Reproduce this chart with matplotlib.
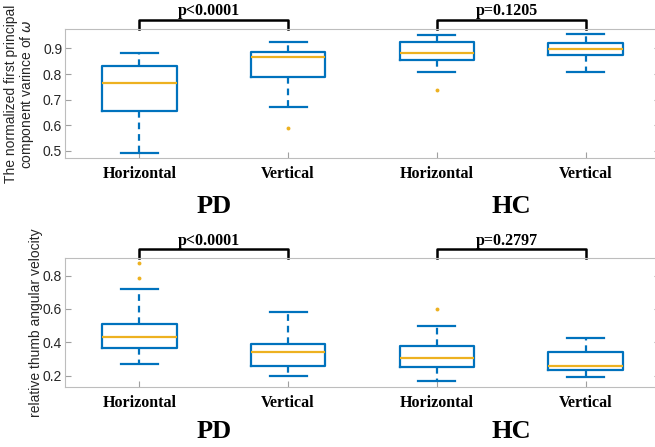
import matplotlib
matplotlib.use("Agg")
import matplotlib.pyplot as plt
import matplotlib.transforms as mtransforms

groups = ["PD", "HC"]
conditions = ["Horizontal", "Vertical", "Horizontal", "Vertical"]

# top panel: normalized first principal component variance
top_whislo = [0.492, 0.671, 0.809, 0.808]
top_q1 = [0.657, 0.790, 0.855, 0.873]
top_med = [0.767, 0.865, 0.884, 0.899]
top_q3 = [0.833, 0.886, 0.925, 0.921]
top_whishi = [0.884, 0.925, 0.951, 0.955]
top_fliers = [[], [0.591], [0.737], []]
top_pvals = ["p<0.0001", "p=0.1205"]

# bottom panel: relative thumb angular velocity
bot_whislo = [0.272, 0.200, 0.168, 0.190]
bot_q1 = [0.366, 0.260, 0.254, 0.232]
bot_med = [0.434, 0.342, 0.306, 0.260]
bot_q3 = [0.512, 0.390, 0.380, 0.340]
bot_whishi = [0.718, 0.580, 0.496, 0.426]
bot_fliers = [[0.874, 0.784], [], [0.602], []]
bot_pvals = ["p<0.0001", "p=0.2797"]

blue = "#0072BD"
orange = "#EDB120"
gray = "#bdbdbd"
serif = "Liberation Serif"
sans = "Liberation Sans"

fig = plt.figure(figsize=(6.55, 4.47), dpi=100)
ax1 = fig.add_axes([0.0992, 0.6459, 0.9084, 0.2886])
ax2 = fig.add_axes([0.0992, 0.1336, 0.9084, 0.2899])


def draw_panel(ax, lo, q1, med, q3, hi, fliers, pvals, ylim, yticks, ylabel, labx, bracket_h, text_y, group_y):
    stats = []
    for i in range(len(med)):
        stats.append(dict(whislo=lo[i], q1=q1[i], med=med[i], q3=q3[i],
                          whishi=hi[i], fliers=fliers[i]))
    pos = [1, 2, 3, 4]
    ax.bxp(stats, positions=pos, widths=0.5, showcaps=True,
           boxprops=dict(color=blue, linewidth=1.6),
           whiskerprops=dict(color=blue, linewidth=1.6, linestyle=(0, (3, 2.2))),
           capprops=dict(color=blue, linewidth=1.6),
           medianprops=dict(color=orange, linewidth=1.6),
           flierprops=dict(marker="o", markersize=2.8, markerfacecolor=orange,
                           markeredgecolor="none"),
           capwidths=0.25)
    ax.set_xlim(0.5, 4.5)
    ax.set_ylim(*ylim)
    ax.set_yticks(yticks)
    ax.set_yticklabels(["%.1f" % t for t in yticks], fontfamily=sans, fontsize=10, color="#262626")
    ax.set_xticks(pos)
    ax.set_xticklabels(conditions, fontfamily=serif, fontweight="bold", fontsize=11.5)
    ax.tick_params(axis="y", direction="in", length=4, color="#a0a0a0", pad=2, right=True)
    ax.tick_params(axis="x", direction="in", length=4, color="#a0a0a0", pad=5.5)
    for s in ax.spines.values():
        s.set_color(gray)
        s.set_linewidth(0.8)
    ax.set_ylabel(ylabel, fontfamily=sans, fontsize=10, color="#262626", linespacing=1.05)
    ax.yaxis.set_label_coords(labx, 0.5)

    trans = mtransforms.blended_transform_factory(ax.transData, ax.transAxes)
    for k, p in enumerate(pvals):
        a, b = pos[2 * k], pos[2 * k + 1]
        ax.plot([a, a, b, b], [1.0, 1.0 + bracket_h, 1.0 + bracket_h, 1.0],
                color="black", linewidth=1.8, transform=trans, clip_on=False)
        ax.text((a + b) / 2 - 0.03, text_y, p, transform=trans, ha="center", va="baseline",
                fontfamily=serif, fontweight="bold", fontsize=11.5)
        ax.text((a + b) / 2, group_y, groups[k], transform=trans, ha="center", va="center",
                fontfamily=serif, fontweight="bold", fontsize=19)


draw_panel(ax1, top_whislo, top_q1, top_med, top_q3, top_whishi, top_fliers, top_pvals,
           (0.471, 0.975), [0.5, 0.6, 0.7, 0.8, 0.9],
           "The normalized first principal\ncomponent varince of $\\omega$",
           -0.048, 0.072, 1.11, -0.37)
draw_panel(ax2, bot_whislo, bot_q1, bot_med, bot_q3, bot_whishi, bot_fliers, bot_pvals,
           (0.130, 0.908), [0.2, 0.4, 0.6, 0.8],
           "relative thumb angular velocity",
           -0.037, 0.069, 1.098, -0.345)

fig.savefig("out.png", dpi=100)
